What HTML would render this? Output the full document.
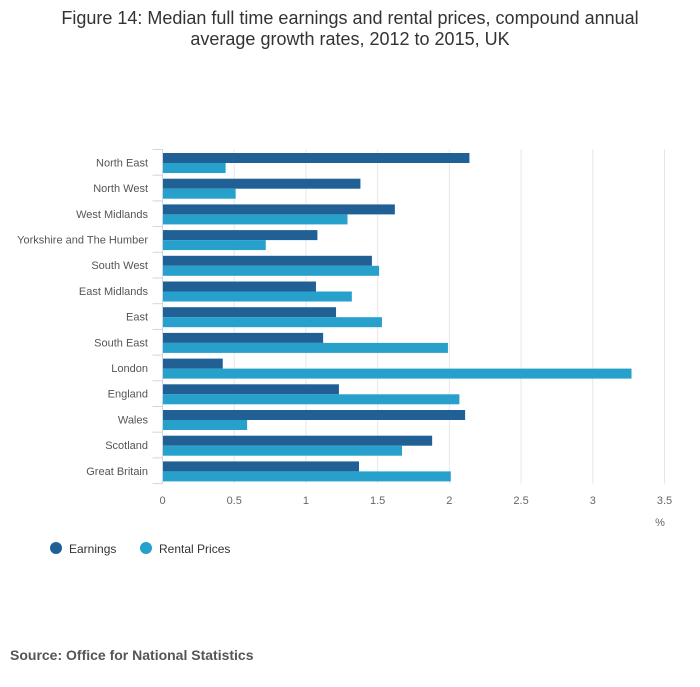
<!DOCTYPE html>
<html><head><meta charset="utf-8"><style>
body{margin:0;background:#fff;font-family:"Liberation Sans",sans-serif;}
</style></head><body>
<svg width="700" height="682" viewBox="0 0 700 682" xmlns="http://www.w3.org/2000/svg">
<text x="350" y="24" text-anchor="middle" font-size="18" fill="#333">Figure 14: Median full time earnings and rental prices, compound annual</text>
<text x="350" y="45" text-anchor="middle" font-size="18" fill="#333">average growth rates, 2012 to 2015, UK</text>
<g id="grid"></g>
<g id="bars"></g>
<g id="axes"></g>
<text x="660" y="526" text-anchor="middle" font-size="11" fill="#666">%</text>
<g>
<circle cx="56" cy="548" r="6" fill="#206095"/>
<text x="69" y="553" font-size="12" fill="#333">Earnings</text>
<circle cx="146" cy="548" r="6" fill="#27a0cc"/>
<text x="159" y="553" font-size="12" fill="#333">Rental Prices</text>
</g>
<text x="10" y="660" font-size="14" font-weight="bold" fill="#555">Source: Office for National Statistics</text>
</svg>
<script>
const categories=["North East","North West","West Midlands","Yorkshire and The Humber","South West","East Midlands","East","South East","London","England","Wales","Scotland","Great Britain"];
const earnings=[2.14,1.38,1.62,1.08,1.46,1.07,1.21,1.12,0.42,1.23,2.11,1.88,1.37];
const rental=[0.44,0.51,1.29,0.72,1.51,1.32,1.53,1.99,3.27,2.07,0.59,1.67,2.01];
const ticks=[0,0.5,1,1.5,2,2.5,3,3.5];
const tickLabels=["0","0.5","1","1.5","2","2.5","3","3.5"];
const NS="http://www.w3.org/2000/svg";
const x0=162.5,x1=664.5,xmax=3.5,yTop=149.5,rowH=25.7;
const xs=v=>x0+v/xmax*(x1-x0);
const yBottom=yTop+rowH*categories.length;
function mk(tag,attrs,parent){const e=document.createElementNS(NS,tag);for(const k in attrs)e.setAttribute(k,attrs[k]);document.getElementById(parent).appendChild(e);return e;}
ticks.forEach((t,i)=>{
 if(i>0){const g=mk('line',{x1:xs(t),x2:xs(t),y1:yTop,y2:yBottom,stroke:'#e6e6e6','stroke-width':1},'grid');
 
 }
 const l=mk('text',{x:xs(t),y:504,'text-anchor':'middle','font-size':11,fill:'#666'},'axes');
 l.textContent=tickLabels[i];
 
 
});
const ax=mk('line',{x1:x0,x2:x0,y1:yTop,y2:yBottom,stroke:'#ccd6eb','stroke-width':1},'axes');


for(let i=0;i<=categories.length;i++){
 const y=yTop+i*rowH;
 const t=mk('line',{x1:x0-10,x2:x0,y1:y,y2:y,stroke:'#ccd6eb','stroke-width':1},'axes');
 
 
}
categories.forEach((c,i)=>{
 const y=yTop+i*rowH;
 const lab=mk('text',{x:148,y:y+rowH/2+4,'text-anchor':'end','font-size':11,fill:'#555'},'axes');
 lab.textContent=c;
 
 
 const b1=mk('rect',{x:x0,y:y+3.5,width:xs(earnings[i])-x0,height:10,fill:'#206095'},'bars');
 
 
 const b2=mk('rect',{x:x0,y:y+13.5,width:xs(rental[i])-x0,height:10,fill:'#27a0cc'},'bars');
 
 
});
</script>
</body></html>
